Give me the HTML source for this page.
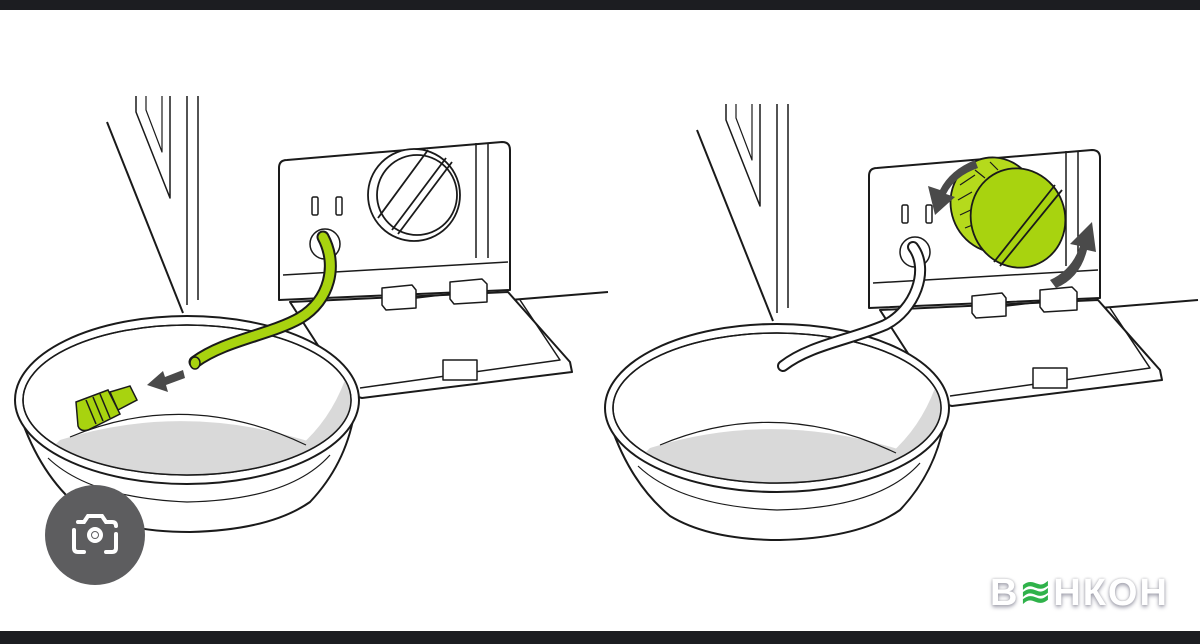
<!DOCTYPE html>
<html><head><meta charset="utf-8"><style>
html,body{margin:0;padding:0;background:#fff;}
body{width:1200px;height:644px;position:relative;overflow:hidden;font-family:"Liberation Sans",sans-serif;}
.bar{position:absolute;left:0;width:1200px;background:#1c1d21;}
.logo{position:absolute;left:990px;top:570px;font-weight:bold;font-size:38px;color:#fff;letter-spacing:2px;text-shadow:0 2px 4px #9a9aa8,0 0 2px #bbb;}
.logo span{color:#2fb24a;text-shadow:none;}
</style></head><body>
<div class="bar" style="top:0;height:10px"></div>
<div class="bar" style="top:631px;height:13px"></div>
<svg width="1200" height="644" style="position:absolute;left:0;top:0" xmlns="http://www.w3.org/2000/svg">
<defs>
<clipPath id="inner"><ellipse cx="187" cy="400" rx="164" ry="75"/></clipPath>
<g id="scene" fill="none" stroke="#1a1a1a" stroke-width="2" stroke-linejoin="round">
  <line x1="107" y1="122" x2="183" y2="313"/>
  <path d="M136,96 L136,112 L170,198 L170,96" stroke-width="1.5"/>
  <path d="M146,96 L146,110 L162,152 L162,96" stroke-width="1.2"/>
  <line x1="187" y1="96" x2="187" y2="305" stroke-width="1.5"/>
  <line x1="198" y1="96" x2="198" y2="300" stroke-width="1.5"/>
  <line x1="510" y1="300" x2="608" y2="292"/>
  <path d="M287,160 L502,142 Q510,142 510,150 L510,290 L279,300 L279,168 Q279,160 287,160 Z" fill="#fff"/>
  <path d="M283,275 L508,262" stroke-width="1.5"/>
  <path d="M476,143 L476,258 M488,143 L488,258" stroke-width="1.5"/>
  <rect x="312" y="197" width="6" height="18" rx="1.5" stroke-width="1.5"/>
  <rect x="336" y="197" width="6" height="18" rx="1.5" stroke-width="1.5"/>
  <circle cx="325" cy="244" r="15" stroke-width="1.5"/>
  <path d="M290,302 L508,292 L570,362 L572,372 L362,398 L350,395 Z" fill="#fff"/>
  <path d="M520,300 L560,360 L360,388" stroke-width="1.5"/>
  <rect x="443" y="360" width="34" height="20" fill="#fff" stroke-width="1.5"/>
  <path d="M382,288 L412,285 L416,290 L416,308 L386,310 L382,305 Z" fill="#fff" stroke-width="1.5"/>
  <path d="M450,282 L482,279 L487,284 L487,302 L454,304 L450,299 Z" fill="#fff" stroke-width="1.5"/>
  <line x1="416" y1="298" x2="450" y2="294" stroke-width="1.5"/>
  <!-- bowl -->
  <path d="M20,415 Q40,475 80,508 Q120,532 190,532 Q270,530 310,502 Q345,465 354,415" fill="#fff"/>
  <ellipse cx="187" cy="400" rx="172" ry="84" fill="#fff"/>
  <ellipse cx="187" cy="400" rx="164" ry="75" fill="#fff" stroke-width="1.5"/>
  <g clip-path="url(#inner)" stroke="none" fill="#d9d9d9">
    <path d="M60,440 Q187,400 320,445 L360,480 L20,480 Z"/>
    <path d="M300,446 Q330,420 345,380 L360,380 L360,460 Z"/>
  </g>
  <path d="M70,437 Q187,388 306,445" stroke-width="1.2"/>
  <ellipse cx="187" cy="400" rx="164" ry="75" stroke-width="1.5"/>
  <path d="M48,458 Q90,498 187,502 Q290,500 330,455" stroke-width="1.2"/>
</g>
</defs>
<use href="#scene"/>
<!-- left green hose -->
<path d="M323,237 C338,265 330,300 300,318 C270,335 225,340 195,362" fill="none" stroke="#1a1a1a" stroke-width="13" stroke-linecap="round"/>
<path d="M323,237 C338,265 330,300 300,318 C270,335 225,340 195,362" fill="none" stroke="#a8d30f" stroke-width="9" stroke-linecap="round"/>
<ellipse cx="195" cy="363" rx="5" ry="6" fill="#a8d30f" stroke="#1a1a1a" stroke-width="1.5"/>
<path d="M183,370 L165,377 L163,371 L147,385 L168,392 L166,385 L185,378 Z" fill="#4a4a4a"/>
<g stroke="#1a1a1a" stroke-width="1.5" fill="#a8d30f">
<path d="M110,392 L130,386 L137,400 L118,410 Z"/>
<path d="M76,402 L108,390 L120,414 L88,430 Q80,432 78,426 Z"/>
<path d="M86,400 L96,424 M93,397 L103,421 M100,394 L110,418" fill="none"/>
</g>
<!-- left cap -->
<g fill="none" stroke="#1a1a1a" stroke-width="1.8">
<circle cx="414" cy="195" r="46" fill="#fff"/>
<circle cx="417" cy="195" r="40"/>
<path d="M378,218 L428,150 M392,230 L446,158 M398,234 L452,162"/>
</g>
<!-- right scene -->
<g transform="translate(590,8)"><use href="#scene"/></g>
<path d="M913,247 C930,270 915,310 885,325 C850,340 810,345 783,366" fill="none" stroke="#1a1a1a" stroke-width="12" stroke-linecap="round"/>
<path d="M913,247 C930,270 915,310 885,325 C850,340 810,345 783,366" fill="none" stroke="#fff" stroke-width="8" stroke-linecap="round"/>
<!-- knob -->
<g stroke="#1a1a1a" stroke-width="1.8">
<ellipse cx="995" cy="205" rx="44" ry="48" fill="#b5da1c" transform="rotate(-20 995 205)"/>
<path d="M960,185 L975,175 M958,200 L972,192 M960,215 L975,208 M965,228 L980,222 M975,170 L985,178 M990,162 L998,170" stroke-width="1.2" fill="none"/>
<ellipse cx="1018" cy="218" rx="47" ry="50" fill="#a8d30f" transform="rotate(-20 1018 218)"/>
<path d="M994,262 L1055,185 M1000,266 L1062,190" fill="none"/>
</g>
<path d="M975,160 Q950,170 940,190 L928,186 L935,215 L955,197 L946,194 Q955,176 978,168 Z" fill="#4a4a4a"/>
<path d="M1050,280 Q1072,270 1080,246 L1070,244 L1092,222 L1096,252 L1087,250 Q1080,278 1056,288 Z" fill="#4a4a4a"/>
<!-- camera icon -->
<circle cx="95" cy="535" r="50" fill="#5d5d5f"/>
<g fill="none" stroke="#fff" stroke-width="4" stroke-linecap="round">
<path d="M78,522 L84,522 L88,516 L102,516 L106,522 L112,522 Q116,522 116,526"/>
<path d="M74,530 L74,548 Q74,552 78,552 L84,552"/>
<circle cx="95" cy="535" r="6"/>
<path d="M116,534 L116,548 Q116,552 112,552 L106,552"/>
</g>
<circle cx="95" cy="535" r="3" fill="#fff"/>
</svg>
<div class="logo">В<span>≋</span>НКОН</div>
</body></html>
